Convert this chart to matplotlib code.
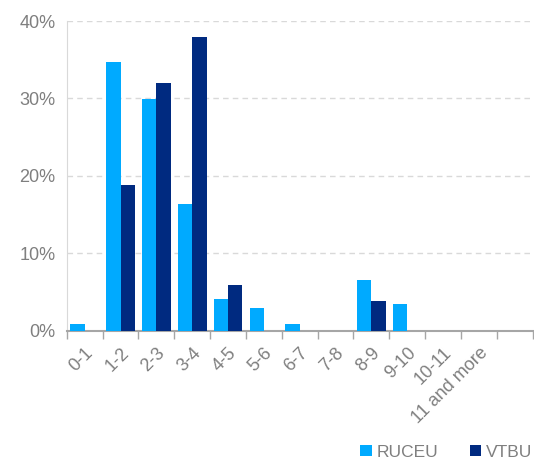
import numpy as np
import matplotlib.pyplot as plt
from matplotlib.ticker import PercentFormatter

plt.rcParams['font.family'] = ['Liberation Sans', 'DejaVu Sans']

categories = ["0-1", "1-2", "2-3", "3-4", "4-5", "5-6", "6-7", "7-8",
              "8-9", "9-10", "10-11", "11 and more", ""]
ruceu = [0.9, 34.7, 29.9, 16.4, 4.1, 2.9, 0.9, 0, 6.5, 3.4, 0, 0, 0]
vtbu = [0, 18.8, 32.0, 37.9, 5.9, 0, 0, 0, 3.8, 0, 0, 0, 0]

light = "#00AAFF"
dark = "#002A80"
grey = "#7F7F7F"

fig = plt.figure(figsize=(5.34, 4.62), dpi=100)
ax = fig.add_axes([0.125, 0.284, 0.8725, 0.6705])

x = np.arange(len(categories))
w = 0.4
ax.bar(x - w / 2, ruceu, w, color=light, label="RUCEU", zorder=3)
ax.bar(x + w / 2, vtbu, w, color=dark, label="VTBU", zorder=3)

ax.set_xlim(-0.5, len(categories) - 0.5)
ax.set_ylim(0, 40)
ax.set_yticks([0, 10, 20, 30, 40])
ax.yaxis.set_major_formatter(PercentFormatter(decimals=0))
ax.yaxis.grid(True, color="#D9D9D9", linestyle=(0, (4, 3)), linewidth=1, zorder=0)

# tick marks between categories, labels under the centres
ax.set_xticks(np.arange(len(categories) + 1) - 0.5, minor=False)
ax.set_xticklabels([])
ax.set_xticks(x, minor=True)
ax.set_xticklabels(categories, minor=True, rotation=45, ha="right",
                   rotation_mode="anchor", fontsize=13, color=grey)
ax.tick_params(axis="x", which="minor", length=0, pad=10)
ax.tick_params(axis="x", which="major", direction="out", length=6,
               color="#A6A6A6", width=1)
ax.tick_params(axis="y", length=0, labelsize=13, labelcolor=grey, pad=8)

for s in ["top", "right"]:
    ax.spines[s].set_visible(False)
ax.spines["left"].set_color("#D9D9D9")
ax.spines["bottom"].set_color("#A6A6A6")
ax.spines["bottom"].set_linewidth(1.5)

ax.legend(loc="center right", bbox_to_anchor=(1.0, -0.392), ncol=2,
          frameon=False, fontsize=12.5, labelcolor=grey, handlelength=0.65,
          handleheight=0.65, columnspacing=1.8, handletextpad=0.3,
          borderaxespad=0, borderpad=0)

fig.savefig("out.png", dpi=100)
